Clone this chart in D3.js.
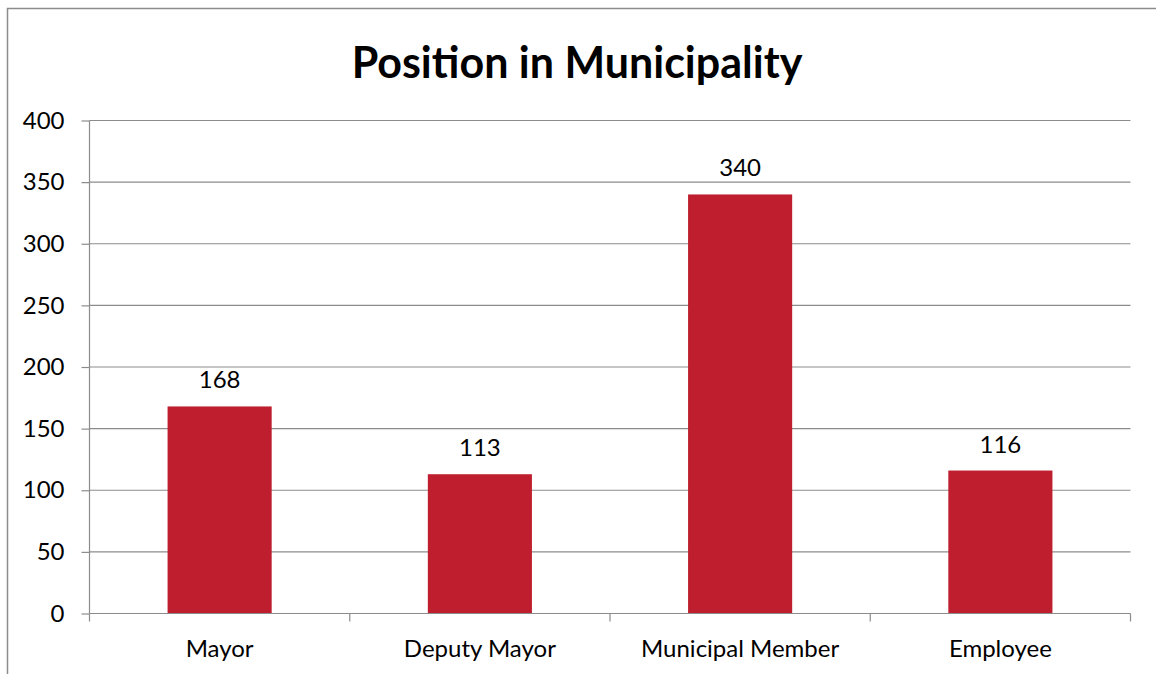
<!DOCTYPE html>
<html>
<head>
<meta charset="utf-8">
<script src="https://cdn.jsdelivr.net/npm/d3@7"></script>
<style>
  body { margin: 0; background: #fff; }
  svg { display: block; }
  text { font-family: Lato, "Open Sans", sans-serif; fill: #000; }
</style>
</head>
<body>
<svg id="chart" width="1156" height="674"></svg>
<script>
var categories = ['Mayor', 'Deputy Mayor', 'Municipal Member', 'Employee'];
var values = [168, 113, 340, 116];
var yTicks = [0, 50, 100, 150, 200, 250, 300, 350, 400];
var title = 'Position in Municipality';

var svg = d3.select('#chart'),
    plotLeft = 89.5, plotRight = 1130.5, plotTop = 120.5, plotBottom = 613.5;

// outer chart frame (runs off the page at right and bottom)
svg.append('rect')
    .attr('x', 7.5).attr('y', 8.5)
    .attr('width', 1200).attr('height', 800)
    .attr('fill', 'none').attr('stroke', '#8c8c8c').attr('stroke-width', 1.5);

svg.append('text')
    .attr('x', 577).attr('y', 78)
    .attr('text-anchor', 'middle')
    .attr('font-size', '43px').attr('font-weight', 'bold')
    .text(title);

var x = d3.scaleBand().domain(categories).range([plotLeft, plotRight]);
var y = d3.scaleLinear().domain([0, 400]).range([plotBottom, plotTop]);

// gridlines
svg.append('g').selectAll('line')
    .data(yTicks.slice(1))
    .enter().append('line')
    .attr('x1', plotLeft).attr('x2', plotRight)
    .attr('y1', function(d) { return y(d); })
    .attr('y2', function(d) { return y(d); })
    .attr('stroke', '#8c8c8c').attr('stroke-width', 1.2);

// y axis
var yAxis = svg.append('g')
    .attr('transform', 'translate(' + plotLeft + ',0)')
    .call(d3.axisLeft(y).tickValues(yTicks).tickSize(8).tickPadding(17));
yAxis.selectAll('path, line').attr('stroke', '#8c8c8c').attr('stroke-width', 1.2);
yAxis.select('.domain').attr('d', 'M0,' + plotTop + 'V' + plotBottom);
yAxis.selectAll('text').attr('font-size', '24px').attr('font-family', 'Lato, sans-serif').attr('fill', '#000');

// bars
var bw = x.bandwidth() * 0.4;
svg.append('g').selectAll('rect')
    .data(values)
    .enter().append('rect')
    .attr('x', function(d, i) { return x(categories[i]) + (x.bandwidth() - bw) / 2; })
    .attr('y', function(d) { return y(d); })
    .attr('width', bw)
    .attr('height', function(d) { return y(0) - y(d); })
    .attr('fill', '#be1e2d');

// x axis with ticks at category boundaries
var xg = svg.append('g');
xg.append('line')
    .attr('x1', plotLeft).attr('x2', plotRight)
    .attr('y1', plotBottom).attr('y2', plotBottom)
    .attr('stroke', '#8c8c8c').attr('stroke-width', 1.2);
xg.selectAll('.bt')
    .data(categories.concat(['end']))
    .enter().append('line')
    .attr('x1', function(d, i) { return i < categories.length ? x(d) : plotRight; })
    .attr('x2', function(d, i) { return i < categories.length ? x(d) : plotRight; })
    .attr('y1', plotBottom).attr('y2', plotBottom + 8)
    .attr('stroke', '#8c8c8c').attr('stroke-width', 1.2);
xg.selectAll('text')
    .data(categories)
    .enter().append('text')
    .attr('x', function(d) { return x(d) + x.bandwidth() / 2; })
    .attr('y', 657)
    .attr('text-anchor', 'middle')
    .attr('font-size', '24px')
    .text(function(d) { return d; });

// value labels
svg.append('g').selectAll('text')
    .data(values)
    .enter().append('text')
    .attr('x', function(d, i) { return x(categories[i]) + x.bandwidth() / 2; })
    .attr('y', function(d) { return y(d) - 18; })
    .attr('text-anchor', 'middle')
    .attr('font-size', '24px')
    .text(function(d) { return d; });
</script>
</body>
</html>
